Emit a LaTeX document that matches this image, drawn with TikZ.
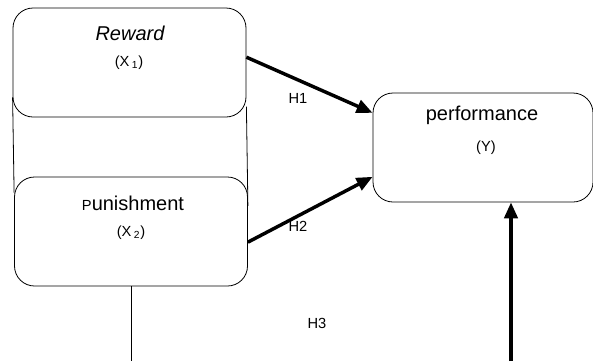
\documentclass[tikz,border=0pt]{standalone}
\usepackage{fontspec}
\setmainfont{Liberation Sans}
\usetikzlibrary{arrows.meta, positioning}

\begin{document}
\begin{tikzpicture}[
    x=0.75pt, y=-0.75pt,
    box/.style={rectangle, draw, line width=0.6pt, rounded corners=15pt, minimum width=174.75pt, minimum height=81.75pt},
    ttl/.style={inner sep=0pt, font=\fontsize{15}{18}\selectfont},
    var/.style={inner sep=0pt, font=\fontsize{11}{13}\selectfont},
    hyp/.style={inner sep=0pt, font=\fontsize{11}{13}\selectfont},
    arrow/.style={-{Triangle[length=12pt, width=10pt]}, line width=2.6pt},
]
\useasboundingbox (0,0) rectangle (593,361);

% variables
\node[box] (reward) at (129.5,62.5) {};
\node[box] (punish) at (131,231.5) {};
\node[box, minimum width=165pt] (perf) at (483,147.5) {};

\node[ttl] (rewardtxt) at (130,33) {\itshape Reward};
\node[var] (x1) at (129,63) {(X\,\textsubscript{1})};
\node[ttl] (punishtxt) at (133,203) {{\fontsize{11}{13}\selectfont P}unishment};
\node[var] (x2) at (131,233) {(X\,\textsubscript{2})};
\node[ttl] (perftxt) at (482,115) {performance};
\node[var] (y) at (486,148) {(Y)};

% joining lines
\draw[line width=0.6pt] ([yshift=15pt]reward.south west) -- ([yshift=-12pt]punish.north west);
\draw[line width=0.6pt] ([yshift=8pt]reward.south east) -- ([yshift=-22pt]punish.north east);

% hypotheses
\draw[arrow] ([yshift=4pt]reward.east) -- ([yshift=26pt]perf.west);
\draw[arrow] ([yshift=-8pt]punish.east) -- ([yshift=-22pt]perf.west);
\coordinate (h3end) at (511,361);
\draw[arrow] (h3end) -- (h3end |- perf.south);
\draw[line width=0.6pt] (punish.south) -- (punish.south |- h3end);

\node[hyp] (h1) at (298,98) {H1};
\node[hyp] (h2) at (298,226) {H2};
\node[hyp] (h3) at (317,323) {H3};

\end{tikzpicture}
\end{document}
